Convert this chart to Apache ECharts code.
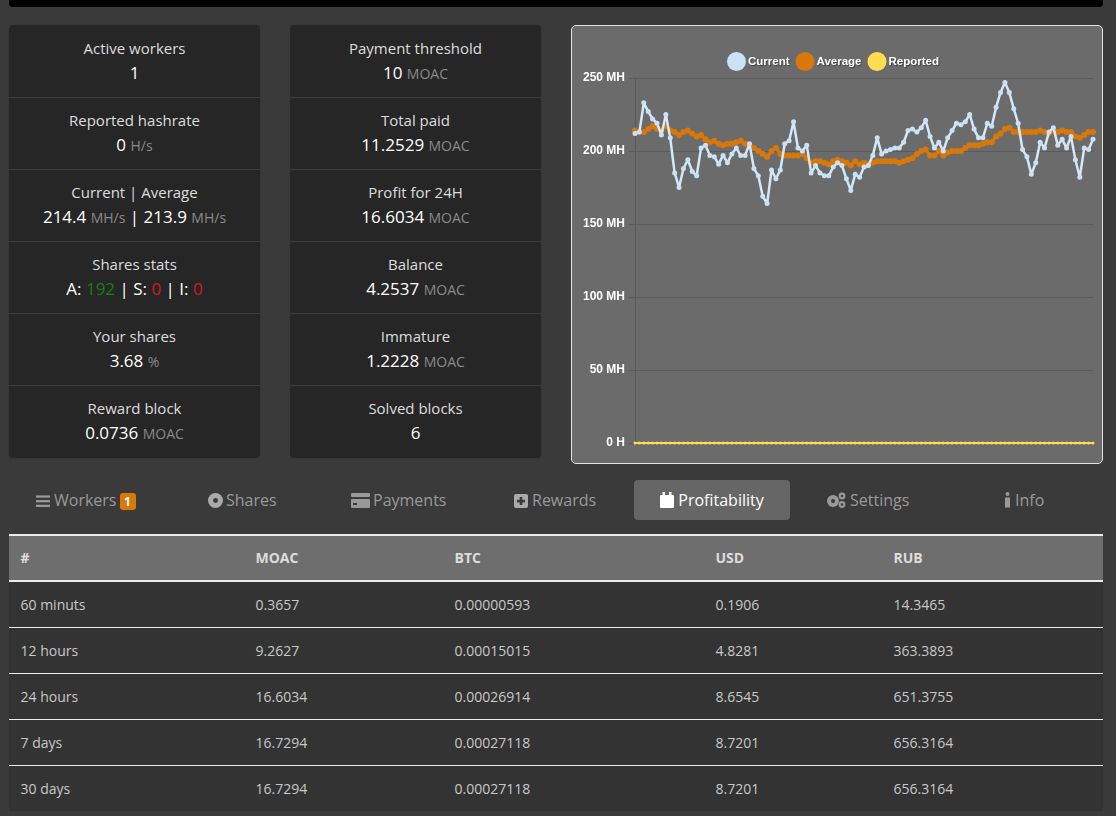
<!DOCTYPE html>
<html>
<head>
<meta charset="utf-8">
<script src="https://cdn.jsdelivr.net/npm/echarts@6/dist/echarts.min.js"></script>
<style>
html, body { margin: 0; padding: 0; }
body { width: 1116px; height: 816px; background: #3a3a3a; overflow: hidden; position: relative; font-family: "Open Sans", sans-serif; color: #ddd; }
#topbar { position: absolute; left: 9px; top: -6px; width: 1094px; height: 13px; background: #000; border-radius: 4px; }
.panel { position: absolute; top: 25px; width: 251px; height: 433px; background: #262626; border-radius: 4px; box-shadow: 0 0 2px #333; padding-top: 1px; box-sizing: border-box; }
#panel1 { left: 9px; }
#panel2 { left: 290px; }
.stat { height: 71px; border-bottom: 1px solid #3c3c3c; text-align: center; font-size: 15px; line-height: 24px; }
.stat:last-child { border-bottom: none; }
.stat .name { padding-top: 10px; margin-bottom: 1px; color: #ddd; }
.stat .val { font-size: 17px; color: #fff; }
.stat small { font-size: 14px; color: #8a8a8a; }
.green { color: #1c7a1c; }
.red { color: #d01c1c; }
#chartbox { position: absolute; left: 571px; top: 25px; width: 530px; height: 437px; background: #6b6b6b; border: 1px solid #e4e4e4; border-radius: 5px; }
#chart { width: 530px; height: 437px; }
.tab { position: absolute; top: 480px; height: 40px; line-height: 40px; font-size: 16px; color: #999; white-space: nowrap; }
.tab svg { vertical-align: -2px; margin-right: 3px; }
.tab.on { left: 634px; width: 156px; background: #666; color: #fff; border-radius: 4px; text-align: center; }
.badge { display: inline-block; background: #d9780a; color: #fff; font-size: 12px; font-weight: 700; line-height: 17px; width: 16px; text-align: center; border-radius: 3px; margin-left: 3px; }
table { position: absolute; left: 9px; top: 534px; width: 1094px; border-collapse: collapse; table-layout: fixed; font-size: 14px; color: #c8c8c8; }
th { background: #6e6e6e; height: 46px; padding: 0 0 2px 11.5px; text-align: left; font-weight: 700; color: #ddd; border-top: 2px solid #ececec; border-bottom: 2px solid #ececec; box-sizing: border-box; }
td { background: #333; height: 46px; padding: 0 0 0 11.5px; box-sizing: border-box; border-bottom: 1px solid #ececec; }
tr:last-child td { border-bottom: none; }
</style>
</head>
<body>
<div id="topbar"></div>
<div class="panel" id="panel1"></div>
<div class="panel" id="panel2"></div>
<div id="chartbox"><div id="chart"></div></div>

<div class="tab" style="left:36px"><svg width="14" height="14" viewBox="0 0 15 14" fill="#999" style="margin-right:4px"><rect y="1" width="15" height="2.4"/><rect y="6" width="15" height="2.4"/><rect y="11" width="15" height="2.4"/></svg>Workers<span class="badge">1</span></div>
<div class="tab" style="left:208px"><svg width="15" height="15" viewBox="0 0 16 16"><circle cx="8" cy="8" r="8" fill="#aaa"/><circle cx="8" cy="8" r="2.6" fill="#3a3a3a"/></svg>Shares</div>
<div class="tab" style="left:351px"><svg width="19" height="15" viewBox="0 0 19 15" fill="#999"><rect width="19" height="4" rx="1"/><rect y="6" width="19" height="9" rx="1"/><rect x="2" y="10" width="4" height="2" fill="#3a3a3a"/></svg>Payments</div>
<div class="tab" style="left:514px"><svg width="14" height="14" viewBox="0 0 14 14" style="margin-right:4px"><rect width="14" height="14" rx="2" fill="#aaa"/><rect x="3" y="5.8" width="8" height="2.6" fill="#3a3a3a"/><rect x="5.7" y="3" width="2.6" height="8" fill="#3a3a3a"/></svg>Rewards</div>
<div class="tab on"><svg width="14" height="16" viewBox="0 0 14 16" fill="#fff" style="margin-right:4px"><rect y="3" width="14" height="13" rx="1"/><rect x="2.5" y="0" width="2.5" height="3"/><rect x="9" y="0" width="2.5" height="3"/></svg>Profitability</div>
<div class="tab" style="left:826px"><svg width="20" height="16" viewBox="0 0 20 16" fill="#999" style="margin-right:4px"><circle cx="7" cy="9" r="6"/><circle cx="7" cy="9" r="2" fill="#3a3a3a"/><circle cx="16" cy="4" r="3.4"/><circle cx="16" cy="4" r="1.2" fill="#3a3a3a"/><circle cx="16" cy="12.5" r="3.4"/><circle cx="16" cy="12.5" r="1.2" fill="#3a3a3a"/></svg>Settings</div>
<div class="tab" style="left:1004px"><svg width="7" height="16" viewBox="0 0 7 16" fill="#999" style="margin-right:4px"><circle cx="3.5" cy="2" r="2"/><rect x="1" y="5.5" width="5" height="10"/></svg>Info</div>

<table id="profit"></table>

<script>
var labels1 = ["Active workers", "Reported hashrate", "Current | Average", "Shares stats", "Your shares", "Reward block"];
var values1 = ['1', '0 <small>H/s</small>', '214.4 <small>MH/s</small> | 213.9 <small>MH/s</small>',
    'A: <span class="green">192</span> | S: <span class="red">0</span> | I: <span class="red">0</span>',
    '3.68 <small>%</small>', '0.0736 <small>MOAC</small>'];
var labels2 = ["Payment threshold", "Total paid", "Profit for 24H", "Balance", "Immature", "Solved blocks"];
var values2 = ['10 <small>MOAC</small>', '11.2529 <small>MOAC</small>', '16.6034 <small>MOAC</small>',
    '4.2537 <small>MOAC</small>', '1.2228 <small>MOAC</small>', '6'];

var tableHead = ["#", "MOAC", "BTC", "USD", "RUB"];
var tableRows = [
    ["60 minuts", "0.3657", "0.00000593", "0.1906", "14.3465"],
    ["12 hours", "9.2627", "0.00015015", "4.8281", "363.3893"],
    ["24 hours", "16.6034", "0.00026914", "8.6545", "651.3755"],
    ["7 days", "16.7294", "0.00027118", "8.7201", "656.3164"],
    ["30 days", "16.7294", "0.00027118", "8.7201", "656.3164"]
];

var yTicks = ["0 H", "50 MH", "100 MH", "150 MH", "200 MH", "250 MH"];
var current = [212, 213, 233, 227, 222, 219, 211, 225, 209, 185, 175, 188, 194, 186, 183, 202, 204, 197, 196, 191,
    197, 192, 198, 202, 197, 197, 205, 188, 183, 169, 164, 187, 181, 187, 205, 207, 220, 202, 200, 204,
    185, 190, 185, 183, 183, 189, 192, 190, 181, 173, 184, 182, 189, 190, 197, 209, 198, 200, 201, 202,
    202, 206, 214, 215, 213, 216, 221, 210, 202, 206, 200, 209, 214, 219, 218, 220, 225, 215, 209, 209,
    219, 217, 230, 240, 247, 240, 229, 219, 201, 196, 184, 192, 206, 202, 213, 216, 204, 208, 202, 210,
    194, 182, 202, 201, 208];
var average = [214, 213, 213, 215, 217, 215, 214, 217, 214, 213, 211, 213, 214, 212, 210, 211, 208, 206, 207, 205,
    204, 205, 205, 206, 207, 205, 204, 202, 200, 198, 196, 200, 202, 198, 197, 197, 197, 197, 198, 195,
    192, 193, 193, 192, 191, 193, 194, 193, 192, 190, 193, 191, 192, 191, 192, 193, 193, 193, 193, 193,
    192, 193, 194, 195, 198, 200, 201, 197, 197, 200, 197, 199, 200, 200, 200, 202, 204, 204, 204, 205,
    206, 206, 210, 212, 215, 216, 213, 213, 213, 213, 213, 213, 214, 213, 212, 214, 213, 214, 213, 213,
    210, 209, 211, 213, 213];
var reported = [0, 0, 0, 0, 0, 0, 0, 0, 0, 0, 0, 0, 0, 0, 0, 0, 0, 0, 0, 0,
    0, 0, 0, 0, 0, 0, 0, 0, 0, 0, 0, 0, 0, 0, 0, 0, 0, 0, 0, 0,
    0, 0, 0, 0, 0, 0, 0, 0, 0, 0, 0, 0, 0, 0, 0, 0, 0, 0, 0, 0,
    0, 0, 0, 0, 0, 0, 0, 0, 0, 0, 0, 0, 0, 0, 0, 0, 0, 0, 0, 0,
    0, 0, 0, 0, 0, 0, 0, 0, 0, 0, 0, 0, 0, 0, 0, 0, 0, 0, 0, 0,
    0, 0, 0, 0, 0];

function fillPanel(id, names, vals) {
    var html = "";
    for (var i = 0; i < names.length; i++) {
        html += '<div class="stat"><div class="name">' + names[i] + '</div><div class="val">' + vals[i] + '</div></div>';
    }
    document.getElementById(id).innerHTML = html;
}
fillPanel("panel1", labels1, values1);
fillPanel("panel2", labels2, values2);

// column widths follow the text positions of the table
var colWidths = [235, 199, 261, 178, 221];
var t = "<colgroup>";
colWidths.forEach(function(w) { t += '<col style="width:' + w + 'px">'; });
t += "</colgroup><tr>";
tableHead.forEach(function(h) { t += "<th>" + h + "</th>"; });
t += "</tr>";
tableRows.forEach(function(r) {
    t += "<tr>";
    r.forEach(function(c) { t += "<td>" + c + "</td>"; });
    t += "</tr>";
});
document.getElementById("profit").innerHTML = t;

var cats = current.map(function(v, i) { return String(i); });
var myChart = echarts.init(document.getElementById("chart"));
var option = {
    animation: false,
    backgroundColor: "transparent",
    textStyle: { fontFamily: "Liberation Sans" },
    legend: {
        left: 150,
        top: 21,
        icon: "circle",
        itemWidth: 19,
        itemHeight: 19,
        itemGap: 6,
        data: ["Current", "Average", "Reported"],
        textStyle: {
            color: "#fff", fontSize: 11.5, fontWeight: "bold", padding: [0, 0, 0, -3],
            textShadowColor: "rgba(0,0,0,0.4)", textShadowBlur: 1, textShadowOffsetX: 1, textShadowOffsetY: 1
        }
    },
    grid: { left: 63, right: 9, top: 52, bottom: 20 },
    xAxis: {
        type: "category",
        data: cats,
        boundaryGap: false,
        axisLabel: { show: false },
        axisTick: { show: false },
        axisLine: { show: false }
    },
    yAxis: {
        type: "value",
        min: 0,
        max: 250,
        interval: 50,
        axisLine: { show: true, lineStyle: { color: "#585858" } },
        axisTick: { show: true, length: 6, lineStyle: { color: "#585858" } },
        splitLine: { lineStyle: { color: "#5a5a5a" } },
        axisLabel: {
            color: "#fff", fontSize: 12, fontWeight: "bold", margin: 10,
            formatter: function(v) { return yTicks[v / 50]; }
        }
    },
    series: [
        { name: "Average", type: "line", data: average, z: 3, symbol: "circle", symbolSize: 6, showAllSymbol: true,
          itemStyle: { color: "#d9780a" }, lineStyle: { width: 3, color: "#d9780a" } },
        { name: "Current", type: "line", data: current, z: 4, symbol: "circle", symbolSize: 5, showAllSymbol: true,
          itemStyle: { color: "#c8e2f8" }, lineStyle: { width: 2.5, color: "#d4e8fa" } },
        { name: "Reported", type: "line", data: reported, z: 5, symbol: "circle", symbolSize: 3, showAllSymbol: true,
          itemStyle: { color: "#ffdc50" }, lineStyle: { width: 2, color: "#ffdc50" } }
    ]
};
myChart.setOption(option);
</script>
</body>
</html>
